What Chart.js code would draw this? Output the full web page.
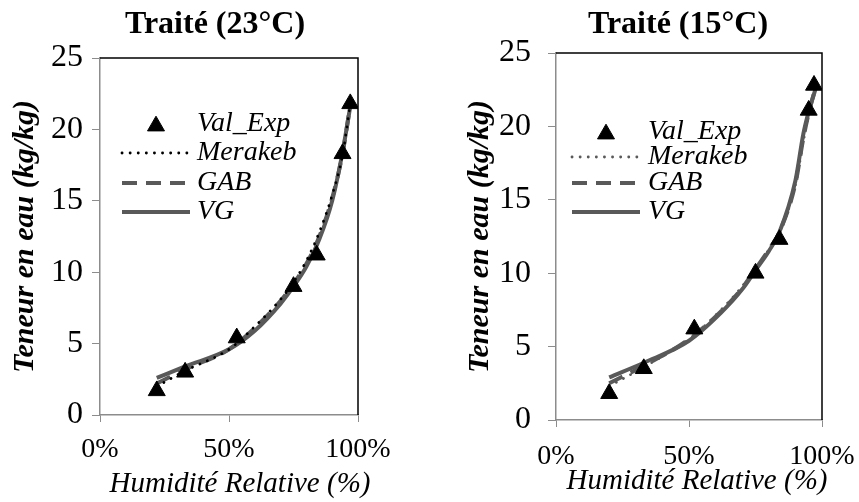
<!DOCTYPE html>
<html>
<head>
<meta charset="utf-8">
<script src="https://cdn.jsdelivr.net/npm/chart.js@4.4.1/dist/chart.umd.min.js"></script>
<style>
  body { margin: 0; background: #fff; }
  canvas { position: absolute; top: 0; }
</style>
</head>
<body>
<canvas id="chart23" width="430" height="502" style="left:0"></canvas>
<canvas id="chart15" width="429" height="502" style="left:430px"></canvas>
<script>
// Humidité relative (%) -> teneur en eau (kg/kg)
const hr23Exp = [22, 33, 53, 75, 84, 94, 97];
const w23Exp = [1.7, 3.0, 5.4, 9.0, 11.2, 18.3, 21.8];
const hr23Model = [22, 33, 50, 60, 70, 75, 80, 85, 90, 94, 97];
const w23Merakeb = [2.0, 3.1, 4.6, 6.2, 8.1, 9.3, 10.8, 12.8, 15.4, 18.2, 21.8];
const w23Gab = [2.2, 3.2, 4.6, 6.1, 8.0, 9.2, 10.6, 12.5, 15.2, 18.3, 21.7];
const w23Vg = [2.6, 3.4, 4.6, 5.9, 7.8, 9.0, 10.4, 12.3, 15.0, 18.4, 21.6];

const hr15Exp = [20, 33, 52, 75, 84, 95, 97];
const w15Exp = [1.8, 3.5, 6.2, 10.0, 12.3, 21.1, 22.8];
const hr15Model = [20, 33, 50, 62, 70, 75, 80, 84, 90, 93, 95, 97.5];
const w15Merakeb = [2.3, 3.6, 5.5, 7.5, 9.1, 10.3, 11.6, 12.8, 16.0, 19.0, 20.8, 22.6];
const w15Gab = [2.5, 3.7, 5.5, 7.4, 9.0, 10.3, 11.6, 12.8, 16.1, 19.2, 20.9, 22.6];
const w15Vg = [2.9, 3.9, 5.4, 7.3, 8.9, 10.2, 11.5, 12.8, 16.3, 19.5, 21.0, 22.5];

const seriesNames = ["Val_Exp", "Merakeb", "GAB", "VG"];
const xTicks = [0, 50, 100];
const yTicks = [0, 5, 10, 15, 20, 25];

const SERIF = '"Liberation Serif", "Times New Roman", serif';
const GREY = "#595959";

function toPoints(xs, ys) {
  return xs.map((x, i) => ({ x: x, y: ys[i] }));
}

// panel heading and x-axis caption, each centred on a given x
const captions = {
  id: "captions",
  afterDraw(chart, args, opts) {
    const ctx = chart.ctx;
    ctx.save();
    ctx.fillStyle = "#000";
    ctx.textAlign = "center";
    ctx.textBaseline = "middle";
    ctx.font = "bold 32px " + SERIF;
    ctx.fillText(opts.title, opts.titleX, 25);
    ctx.font = "italic 29px " + SERIF;
    ctx.fillText("Humidité Relative (%)", opts.xLabelX, opts.xLabelY);
    ctx.restore();
  }
};

// legend drawn inside the plot, rows listed top to bottom
const insideLegend = {
  id: "insideLegend",
  afterDatasetsDraw(chart, args, opts) {
    const ctx = chart.ctx;
    ctx.save();
    chart.data.datasets.forEach((ds, i) => {
      const y = opts.rows[i];
      if (ds.showLine) {
        ctx.beginPath();
        ctx.setLineDash(ds.borderDash || []);
        ctx.lineCap = ds.borderCapStyle || "butt";
        ctx.lineWidth = ds.borderWidth;
        ctx.strokeStyle = ds.borderColor;
        ctx.moveTo(opts.x1, y);
        ctx.lineTo(opts.x2, y);
        ctx.stroke();
        ctx.setLineDash([]);
      } else {
        ctx.fillStyle = "#000";
        Chart.helpers.drawPoint(ctx, {
          pointStyle: "triangle",
          radius: ds.pointRadius,
          borderWidth: 1
        }, (opts.x1 + opts.x2) / 2, y + 2);
      }
      ctx.fillStyle = "#000";
      ctx.font = "italic 28px " + SERIF;
      ctx.textBaseline = "middle";
      ctx.textAlign = "left";
      ctx.fillText(ds.label, opts.textX, y);
    });
    ctx.restore();
  }
};

// black frame on top and right of the plot area
const plotFrame = {
  id: "plotFrame",
  afterDraw(chart) {
    const { ctx, chartArea: a } = chart;
    ctx.save();
    ctx.strokeStyle = "#000";
    ctx.lineWidth = 1.5;
    ctx.beginPath();
    ctx.moveTo(a.left, a.top);
    ctx.lineTo(a.right, a.top);
    ctx.lineTo(a.right, a.bottom);
    ctx.stroke();
    ctx.restore();
  }
};

function makeChart(id, title, xs, ys, xm, merakeb, gab, vg, geo) {
  const ctx = document.getElementById(id).getContext("2d");
  return new Chart(ctx, {
    type: "scatter",
    data: {
      datasets: [
        {
          label: seriesNames[0],
          data: toPoints(xs, ys),
          pointStyle: "triangle",
          pointRadius: 9.8,
          pointBackgroundColor: "#000",
          pointBorderColor: "#000",
          showLine: false
        },
        {
          label: seriesNames[1],
          data: toPoints(xm, merakeb),
          showLine: true,
          borderColor: geo.dotColor,
          borderWidth: 2.8,
          borderDash: [0.1, 8],
          borderCapStyle: "round",
          pointRadius: 0,
          cubicInterpolationMode: "monotone"
        },
        {
          label: seriesNames[2],
          data: toPoints(xm, gab),
          showLine: true,
          borderColor: GREY,
          borderWidth: 4,
          borderDash: [15, 9],
          pointRadius: 0,
          cubicInterpolationMode: "monotone"
        },
        {
          label: seriesNames[3],
          data: toPoints(xm, vg),
          showLine: true,
          borderColor: GREY,
          borderWidth: 4,
          pointRadius: 0,
          cubicInterpolationMode: "monotone"
        }
      ]
    },
    options: {
      responsive: false,
      animation: false,
      layout: { padding: { left: 0, right: geo.padRight, top: geo.padTop, bottom: 0 } },
      plugins: {
        legend: { display: false },
        tooltip: { enabled: false },
        title: { display: false },
        captions: { title: title, titleX: geo.titleX, xLabelX: geo.xLabelX, xLabelY: geo.xLabelY },
        insideLegend: geo.legend
      },
      scales: {
        x: {
          type: "linear",
          min: 0,
          max: 100,
          afterBuildTicks: s => { s.ticks = xTicks.map(v => ({ value: v })); },
          afterFit: s => {
            s.height = geo.xHeight;
            s.paddingLeft = 0;
            s.paddingRight = 0;
          },
          ticks: {
            color: "#000",
            font: { family: SERIF, size: 28 },
            padding: geo.xTickPad,
            maxRotation: 0,
            callback: v => v + "%"
          },
          grid: { drawOnChartArea: false, drawTicks: true, tickLength: 7, color: "#8c8c8c" },
          border: { color: "#8c8c8c", width: 1.5 }
        },
        y: {
          min: 0,
          max: 25,
          afterBuildTicks: s => { s.ticks = yTicks.map(v => ({ value: v })); },
          afterFit: s => { s.width = geo.yWidth; },
          ticks: {
            color: "#000",
            font: { family: SERIF, size: 32 },
            padding: geo.yTickPad
          },
          grid: { drawOnChartArea: false, drawTicks: true, tickLength: 8, color: "#8c8c8c" },
          border: { color: "#8c8c8c", width: 1.5 },
          title: {
            display: true,
            text: "Teneur en eau (kg/kg)",
            color: "#000",
            font: { family: SERIF, size: 30, style: "italic", weight: "bold" },
            padding: { top: geo.yTitlePad, bottom: 0 }
          }
        }
      }
    },
    plugins: [insideLegend, plotFrame, captions]
  });
}

makeChart("chart23", "Traité (23°C)", hr23Exp, w23Exp, hr23Model, w23Merakeb, w23Gab, w23Vg, {
  padRight: 72, padTop: 58, titleX: 215, xLabelX: 240, xLabelY: 484,
  xHeight: 87, yWidth: 100, xTickPad: 11, yTickPad: 9, yTitlePad: 7,
  dotColor: "#000",
  legend: { x1: 122, x2: 190, textX: 197, rows: [124, 153, 183, 212] }
});

makeChart("chart15", "Traité (15°C)", hr15Exp, w15Exp, hr15Model, w15Merakeb, w15Gab, w15Vg, {
  padRight: 37, padTop: 53, titleX: 248, xLabelX: 267, xLabelY: 481,
  xHeight: 82, yWidth: 126, xTickPad: 13, yTickPad: 17, yTitlePad: 32,
  dotColor: GREY,
  legend: { x1: 142, x2: 210, textX: 218, rows: [132, 157, 183, 212] }
});
</script>
</body>
</html>
